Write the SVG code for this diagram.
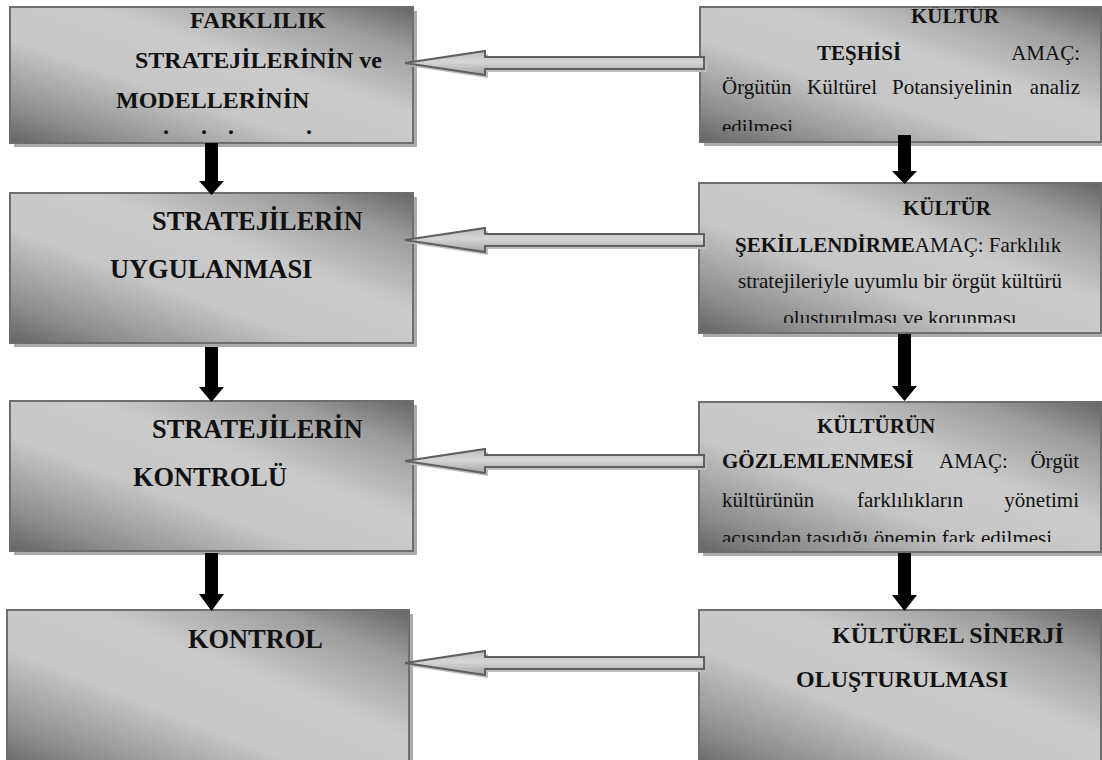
<svg xmlns="http://www.w3.org/2000/svg" width="1102" height="760" viewBox="0 0 1102 760">
<defs>
<linearGradient id="boxGrad" x1="0" y1="1" x2="1" y2="0">
<stop offset="0" stop-color="#646464"/>
<stop offset="0.14" stop-color="#8e8e8e"/>
<stop offset="0.38" stop-color="#c6c6c6"/>
<stop offset="0.6" stop-color="#cbcbcb"/>
<stop offset="0.84" stop-color="#9c9c9c"/>
<stop offset="1" stop-color="#656565"/>
</linearGradient>
<linearGradient id="arrGrad" x1="0" y1="0" x2="0" y2="1">
<stop offset="0" stop-color="#bcbcbc"/>
<stop offset="0.45" stop-color="#d6d6d6"/>
<stop offset="1" stop-color="#a4a4a4"/>
</linearGradient>
<clipPath id="clipR1"><rect x="700" y="7" width="401" height="124"/></clipPath>
<clipPath id="clipR2"><rect x="699" y="183" width="402" height="140"/></clipPath>
<clipPath id="clipR3"><rect x="699" y="402" width="402" height="140"/></clipPath>
<path id="hollow" d="M0,0 L80,-12 L80,-6 L299,-6 L299,6 L80,6 L80,12 Z"/>
<path id="down" d="M-6.5,0 L6.5,0 L6.5,-15 L12.5,-15 L0,0 Z"/>
</defs>
<style>
.shadow{fill:#ababab;}
.box{fill:url(#boxGrad);stroke:#6e6e6e;stroke-width:2;}
.b{font-family:"Liberation Serif","Times New Roman",serif;font-weight:bold;fill:#111;}
.n{font-family:"Liberation Serif","Times New Roman",serif;font-weight:normal;fill:#111;}
.L{font-size:26.4px;}
.L1{font-size:24px;}
.R{font-size:21px;}
.R4{font-size:24px;}
.arr{fill:url(#arrGrad);stroke:#5f5f5f;stroke-width:2;stroke-linejoin:miter;}
.arrsh{fill:#bdbdbd;}
.blk{fill:#000;}
</style>
<rect width="1102" height="760" fill="#fff"/>

<g id="node-farklilik">
<rect class="shadow" x="14" y="11" width="403" height="136"/>
<rect class="box" x="10" y="7" width="403" height="136"/>
<text class="b L1" x="190" y="28">FARKLILIK</text>
<text class="b L1" x="135" y="68">STRATEJİLERİNİN ve</text>
<text class="b L1" x="116" y="108">MODELLERİNİN</text>
<text class="b L1" text-anchor="middle" x="166" y="134">.</text>
<text class="b L1" text-anchor="middle" x="204" y="134">.</text>
<text class="b L1" text-anchor="middle" x="231" y="134">.</text>
<text class="b L1" text-anchor="middle" x="309" y="134">.</text>
</g>

<g id="node-uygulama">
<rect class="shadow" x="14" y="197" width="403" height="150"/>
<rect class="box" x="10" y="193" width="403" height="150"/>
<text class="b L" x="152" y="230">STRATEJİLERİN</text>
<text class="b L" x="110" y="278">UYGULANMASI</text>
</g>

<g id="node-kontrolu">
<rect class="shadow" x="14" y="405" width="403" height="150"/>
<rect class="box" x="10" y="401" width="403" height="150"/>
<text class="b L" x="152" y="438">STRATEJİLERİN</text>
<text class="b L" x="133" y="486">KONTROLÜ</text>
</g>

<g id="node-kontrol">
<rect class="shadow" x="11" y="614" width="402" height="160"/>
<rect class="box" x="7" y="610" width="402" height="160"/>
<text class="b L" x="188" y="648">KONTROL</text>
</g>

<g id="node-teshis">
<rect class="shadow" x="704" y="11" width="401" height="135"/>
<rect class="box" x="700" y="7" width="401" height="135"/>
<g clip-path="url(#clipR1)">
<text class="b R" x="911" y="23">KÜLTÜR</text>
<text class="b R" x="817" y="60">TEŞHİSİ</text>
<text class="n R" x="1080" y="60" text-anchor="end">AMAÇ:</text>
<text class="n R" x="722" y="94">Örgütün</text>
<text class="n R" x="807" y="94">Kültürel</text>
<text class="n R" x="892" y="94">Potansiyelinin</text>
<text class="n R" x="1080" y="94" text-anchor="end">analiz</text>
<text class="n R" x="722" y="134">edilmesi</text>
</g>
</g>

<g id="node-sekillendirme">
<rect class="shadow" x="703" y="187" width="402" height="150"/>
<rect class="box" x="699" y="183" width="402" height="150"/>
<g clip-path="url(#clipR2)">
<text class="b R" x="903" y="215">KÜLTÜR</text>
<text class="R" x="735" y="252"><tspan class="b">ŞEKİLLENDİRME</tspan><tspan class="n">AMAÇ: Farklılık</tspan></text>
<text class="n R" x="900" y="288" text-anchor="middle">stratejileriyle uyumlu bir örgüt kültürü</text>
<text class="n R" x="900" y="325" text-anchor="middle">oluşturulması ve korunması</text>
</g>
</g>

<g id="node-gozlem">
<rect class="shadow" x="703" y="406" width="402" height="150"/>
<rect class="box" x="699" y="402" width="402" height="150"/>
<g clip-path="url(#clipR3)">
<text class="b R" x="817" y="433">KÜLTÜRÜN</text>
<text class="b R" x="722" y="468">GÖZLEMLENMESİ</text>
<text class="n R" x="939" y="468">AMAÇ:</text>
<text class="n R" x="1079" y="468" text-anchor="end">Örgüt</text>
<text class="n R" x="722" y="507">kültürünün</text>
<text class="n R" x="857" y="507">farklılıkların</text>
<text class="n R" x="1079" y="507" text-anchor="end">yönetimi</text>
<text class="n R" x="722" y="545">açısından taşıdığı önemin fark edilmesi</text>
</g>
</g>

<g id="node-sinerji">
<rect class="shadow" x="703" y="614" width="402" height="160"/>
<rect class="box" x="699" y="610" width="402" height="160"/>
<text class="b R4" x="832" y="643">KÜLTÜREL SİNERJİ</text>
<text class="b R4" x="796" y="687">OLUŞTURULMASI</text>
</g>

<g id="connectors">
<use href="#hollow" class="arrsh" transform="translate(408,66)"/>
<use href="#hollow" class="arr" transform="translate(405,63)"/>
<use href="#hollow" class="arrsh" transform="translate(408,243)"/>
<use href="#hollow" class="arr" transform="translate(405,240)"/>
<use href="#hollow" class="arrsh" transform="translate(408,464)"/>
<use href="#hollow" class="arr" transform="translate(405,461)"/>
<use href="#hollow" class="arrsh" transform="translate(408,666)"/>
<use href="#hollow" class="arr" transform="translate(405,663)"/>

<path class="blk" d="M205,143 L218,143 L218,181 L224,181 L211.5,195 L199,181 L205,181 Z"/>
<path class="blk" d="M205,347 L218,347 L218,387 L224,387 L211.5,402 L199,387 L205,387 Z"/>
<path class="blk" d="M205,553 L218,553 L218,594 L224,594 L211.5,611 L199,594 L205,594 Z"/>

<path class="blk" d="M898,135 L911,135 L911,171 L917,171 L904.5,184 L892,171 L898,171 Z"/>
<path class="blk" d="M898,334 L911,334 L911,386 L917,386 L904.5,401 L892,386 L898,386 Z"/>
<path class="blk" d="M898,553 L911,553 L911,595 L917,595 L904.5,611 L892,595 L898,595 Z"/>
</g>
</svg>
